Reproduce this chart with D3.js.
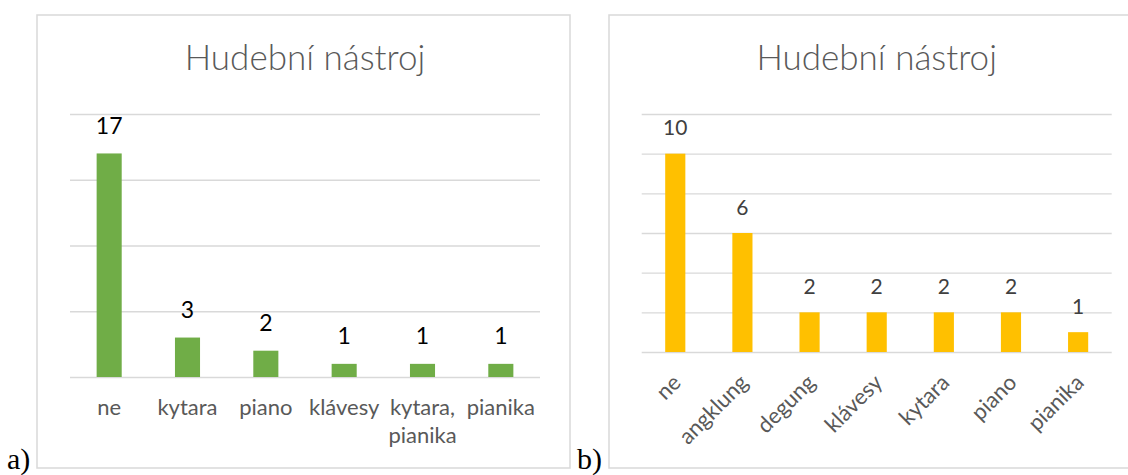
<!DOCTYPE html>
<html>
<head>
<meta charset="utf-8">
<script src="https://cdn.jsdelivr.net/npm/d3@7"></script>
<style>
  html, body { margin: 0; padding: 0; background: #fff; }
  svg { display: block; }
</style>
</head>
<body>
<svg id="chart" width="1128" height="475"></svg>
<script>
// ---- data ----
const titleA = "Hudební nástroj";
const categoriesA = ["ne", "kytara", "piano", "klávesy", "kytara, pianika", "pianika"];
const valuesA = [17, 3, 2, 1, 1, 1];
const ticksA = [0, 5, 10, 15, 20];

const titleB = "Hudební nástroj";
const categoriesB = ["ne", "angklung", "degung", "klávesy", "kytara", "piano", "pianika"];
const valuesB = [10, 6, 2, 2, 2, 2, 1];
const ticksB = [0, 2, 4, 6, 8, 10, 12];

const panelLabels = ["a)", "b)"];

// ---- drawing ----
const svg = d3.select("#chart");
const FONT = "Lato, 'Open Sans', sans-serif";
const GRID = "#d9d9d9";
const TEXT = "#595959";

function wrapText(textSel, width, lineHeight) {
  textSel.each(function () {
    const t = d3.select(this);
    const words = t.text().split(/\s+/);
    const x = t.attr("x"), y = t.attr("y");
    t.text(null);
    let line = [];
    let tspan = t.append("tspan").attr("x", x).attr("y", y);
    let lineNo = 0;
    words.forEach(w => {
      line.push(w);
      tspan.text(line.join(" "));
      if (tspan.node().getComputedTextLength() > width && line.length > 1) {
        line.pop();
        tspan.text(line.join(" "));
        line = [w];
        lineNo++;
        tspan = t.append("tspan").attr("x", x).attr("y", +y + lineNo * lineHeight).text(w);
      }
    });
  });
}

function drawPanel(cfg) {
  const g = svg.append("g");
  // chart frame
  g.append("rect")
    .attr("x", cfg.box[0]).attr("y", cfg.box[1])
    .attr("width", cfg.box[2]).attr("height", cfg.box[3])
    .attr("fill", "#fff").attr("stroke", GRID).attr("stroke-width", 1.5);

  const x = d3.scaleBand().domain(cfg.categories)
    .range([cfg.plot.left, cfg.plot.right])
    .paddingInner(1 - cfg.barFrac).paddingOuter((1 - cfg.barFrac) / 2);
  const y = d3.scaleLinear().domain([0, d3.max(cfg.ticks)])
    .range([cfg.plot.bottom, cfg.plot.top]);

  // gridlines
  const grid = g.append("g")
    .attr("transform", `translate(${cfg.plot.left},0)`)
    .call(d3.axisLeft(y).tickValues(cfg.ticks)
      .tickSize(-(cfg.plot.right - cfg.plot.left)).tickFormat(""));
  grid.select(".domain").remove();
  grid.selectAll(".tick line").attr("stroke", GRID).attr("stroke-width", 1.3);

  // title
  g.append("text")
    .attr("x", (cfg.plot.left + cfg.plot.right) / 2)
    .attr("y", cfg.titleY)
    .attr("text-anchor", "middle")
    .attr("font-family", FONT).attr("font-weight", 300)
    .attr("font-size", cfg.titleSize).attr("fill", TEXT)
    .text(cfg.title);

  const data = cfg.categories.map((c, i) => ({ c, v: cfg.values[i] }));

  // bars
  g.append("g").selectAll("rect").data(data).join("rect")
    .attr("x", d => x(d.c))
    .attr("width", x.bandwidth())
    .attr("y", d => y(d.v))
    .attr("height", d => y(0) - y(d.v))
    .attr("fill", cfg.color);

  // data labels
  g.append("g").selectAll("text").data(data).join("text")
    .attr("x", d => x(d.c) + x.bandwidth() / 2)
    .attr("y", d => y(d.v) - cfg.labelGap)
    .attr("text-anchor", "middle")
    .attr("font-family", FONT).attr("font-size", cfg.labelSize)
    .attr("fill", cfg.labelColor)
    .text(d => d.v);

  // category labels
  const step = x.step();
  const cat = g.append("g").selectAll("text").data(data).join("text")
    .attr("font-family", FONT).attr("font-size", cfg.catSize)
    .attr("fill", TEXT);
  if (cfg.rotate) {
    cat.attr("text-anchor", "end")
      .attr("transform", d => `translate(${x(d.c) + x.bandwidth() / 2 + cfg.rotOffset[0]},${y(0) + cfg.rotOffset[1]}) rotate(-45)`)
      .text(d => d.c);
  } else {
    cat.attr("text-anchor", "middle")
      .attr("x", d => x(d.c) + x.bandwidth() / 2)
      .attr("y", y(0) + cfg.catDy)
      .text(d => d.c);
    wrapText(cat, step - 2, cfg.catLine);
  }

  // panel label
  svg.append("text")
    .attr("x", cfg.panelPos[0]).attr("y", cfg.panelPos[1])
    .attr("font-family", "'Liberation Serif', 'Times New Roman', serif")
    .attr("font-size", 30).attr("fill", "#000")
    .text(cfg.panel);
}

drawPanel({
  box: [37, 15, 533, 453],
  plot: { left: 70, right: 540, top: 114, bottom: 377 },
  title: titleA, titleY: 70, titleSize: 35,
  categories: categoriesA, values: valuesA, ticks: ticksA,
  barFrac: 0.32, color: "#70ad47",
  labelGap: 19.5, labelSize: 23, labelColor: "#000",
  catSize: 22, catDy: 38, catLine: 28,
  rotate: false,
  panel: panelLabels[0], panelPos: [7, 469]
});

drawPanel({
  box: [609, 15, 533, 453],
  plot: { left: 641.7, right: 1111.7, top: 114, bottom: 352 },
  title: titleB, titleY: 70, titleSize: 35,
  categories: categoriesB, values: valuesB, ticks: ticksB,
  barFrac: 0.30, color: "#ffc000",
  labelGap: 18.3, labelSize: 21, labelColor: "#404040",
  catSize: 22, rotOffset: [7, 32],
  rotate: true,
  panel: panelLabels[1], panelPos: [577, 469]
});
</script>
</body>
</html>
